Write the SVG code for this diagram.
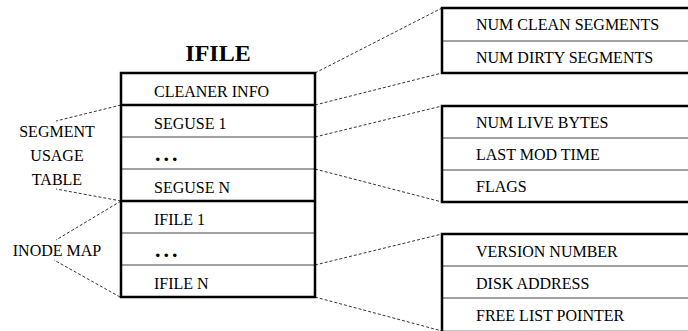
<svg xmlns="http://www.w3.org/2000/svg" width="688" height="331" viewBox="0 0 688 331">
<style>
text{font-family:"Liberation Serif","Times New Roman",serif;font-size:16px;fill:#000}
.title{font-size:24px;font-weight:bold;text-anchor:middle}
.lbl{text-anchor:middle}
.dots{font-size:22px;font-weight:bold;letter-spacing:3px}
.thick{stroke:#000;stroke-width:2.5;fill:none}
.thin{stroke:#444;stroke-width:1.2;fill:none}
.dash{stroke:#000;stroke-width:0.8;stroke-dasharray:3,2;fill:none}
</style>
<rect width="688" height="331" fill="#fff"/>
<g id="connectors">
<line class="dash" x1="121" y1="105" x2="56" y2="121"/>
<line class="dash" x1="121" y1="201" x2="56" y2="189"/>
<line class="dash" x1="121" y1="201" x2="56" y2="240"/>
<line class="dash" x1="120" y1="297" x2="54" y2="260"/>
<line class="dash" x1="315" y1="73" x2="442" y2="8"/>
<line class="dash" x1="315" y1="105" x2="442" y2="73"/>
<line class="dash" x1="315" y1="137" x2="442" y2="106"/>
<line class="dash" x1="315" y1="169" x2="442" y2="202"/>
<line class="dash" x1="315" y1="265" x2="442" y2="234"/>
<line class="dash" x1="315" y1="297" x2="442" y2="331"/>
</g>
<g id="ifile">
<text class="title" x="218" y="61">IFILE</text>
<line class="thin" x1="121" y1="137" x2="315" y2="137"/>
<line class="thin" x1="121" y1="169" x2="315" y2="169"/>
<line class="thin" x1="121" y1="233" x2="315" y2="233"/>
<line class="thin" x1="121" y1="265" x2="315" y2="265"/>
<line class="thick" x1="121" y1="105" x2="315" y2="105"/>
<line class="thick" x1="121" y1="201" x2="315" y2="201"/>
<rect class="thick" x="121" y="73" width="194" height="224"/>
<text x="154" y="97">CLEANER INFO</text>
<text x="154" y="129">SEGUSE 1</text>
<text class="dots" x="155" y="161">...</text>
<text x="154" y="193">SEGUSE N</text>
<text x="154" y="225">IFILE 1</text>
<text class="dots" x="155" y="257">...</text>
<text x="154" y="289">IFILE N</text>
</g>
<g id="segment-usage-table">
<text class="lbl" x="57" y="137">SEGMENT</text>
<text class="lbl" x="57" y="161">USAGE</text>
<text class="lbl" x="57" y="185">TABLE</text>
</g>
<g id="inode-map">
<text class="lbl" x="57" y="256">INODE MAP</text>
</g>
<g id="cleaner-box">
<line class="thin" x1="442" y1="41" x2="700" y2="41"/>
<rect class="thick" x="442" y="8" width="260" height="65"/>
<text x="476" y="30">NUM CLEAN SEGMENTS</text>
<text x="476" y="63">NUM DIRTY SEGMENTS</text>
</g>
<g id="seguse-box">
<line class="thin" x1="442" y1="138" x2="700" y2="138"/>
<line class="thin" x1="442" y1="170" x2="700" y2="170"/>
<rect class="thick" x="442" y="106" width="260" height="96"/>
<text x="476" y="128">NUM LIVE BYTES</text>
<text x="476" y="160">LAST MOD TIME</text>
<text x="476" y="192">FLAGS</text>
</g>
<g id="ifile-box">
<line class="thin" x1="442" y1="266" x2="700" y2="266"/>
<line class="thin" x1="442" y1="298" x2="700" y2="298"/>
<rect class="thick" x="442" y="234" width="260" height="98"/>
<text x="476" y="257">VERSION NUMBER</text>
<text x="476" y="289">DISK ADDRESS</text>
<text x="476" y="321">FREE LIST POINTER</text>
</g>
</svg>
